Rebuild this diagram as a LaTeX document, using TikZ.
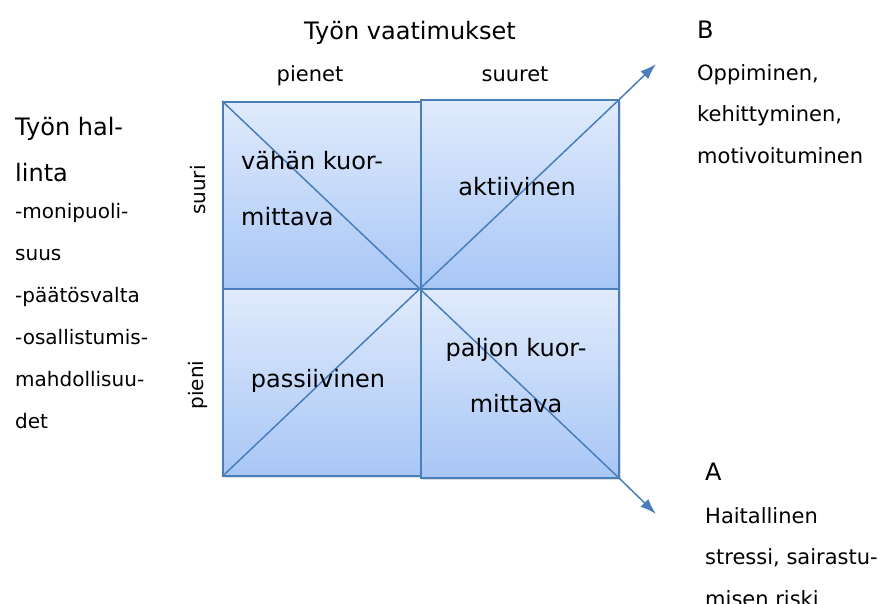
\documentclass[tikz,border=0pt]{standalone}
\usepackage{fontspec}
\setmainfont{DejaVu Sans}
\usetikzlibrary{arrows.meta,shadows}
\definecolor{boxblue}{HTML}{4A7EBB}
\definecolor{boxtop}{HTML}{E0EBFC}
\definecolor{boxbottom}{HTML}{A8C6F6}
\tikzset{
	quad/.style={draw=boxblue,line width=1.7pt,top color=boxtop,bottom color=boxbottom,
		anchor=north west,inner sep=0pt,minimum width=198pt,
		drop shadow={opacity=0.25,shadow xshift=2pt,shadow yshift=-2pt}},
	diag/.style={draw=boxblue,line width=1.5pt},
	big/.style={font=\fontsize{24}{46}\selectfont,inner sep=0pt},
	small/.style={font=\fontsize{20}{42}\selectfont,inner sep=0pt},
	inbox/.style={font=\fontsize{24}{56}\selectfont,inner sep=0pt}
}
\begin{document}
\begin{tikzpicture}[x=1pt,y=-1pt]
		\useasboundingbox (0,0) rectangle (880,603);
		%Boxes
		\node[quad,minimum height=187pt] (vk) at (222,101) {};
		\node[quad,minimum height=189pt] (ak) at (420,99) {};
		\node[quad,minimum height=187pt] (pa) at (222,288) {};
		\node[quad,minimum height=189pt] (pk) at (420,288) {};
		%Diagonals
		\coordinate (tipA) at (656,514);
		\coordinate (tipB) at (656,64);
		\draw[diag,-{Latex[length=16pt,width=11pt]}] (vk.north west)--(pk.south east)--(tipA);
		\draw[diag,-{Latex[length=16pt,width=11pt]}] (pa.south west)--(ak.north east)--(tipB);
		%Box texts (base = last line)
		\node[inbox,anchor=base west,align=left] (vkt) at (241,225) {vähän kuor-\\mittava};
		\node[inbox,anchor=base] (akt) at (517,195) {aktiivinen};
		\node[inbox,anchor=base] (pat) at (318,387) {passiivinen};
		\node[inbox,anchor=base,align=center] (pkt) at (516,412) {paljon kuor-\\mittava};
		%Axis labels
		\node[big,anchor=base] (vaat) at (410,39) {Työn vaatimukset};
		\node[small,font=\fontsize{21}{42}\selectfont,anchor=base] (pienet) at (310,81) {pienet};
		\node[small,font=\fontsize{21}{42}\selectfont,anchor=base] (suuret) at (515,81) {suuret};
		\node[small,rotate=90] (suuri) at (198,190) {suuri};
		\node[small,rotate=90] (pieni) at (198,385) {pieni};
		%Left side
		\node[big,anchor=base west,align=left] (hal) at (15,181) {Työn hal-\\linta};
		\node[small,anchor=base west,align=left] (hallist) at (15,428)
			{-monipuoli-\\suus\\-päätösvalta\\-osallistumis-\\mahdollisuu-\\det};
		%Right side
		\node[big,anchor=base west] (B) at (697,38) {B};
		\node[small,font=\fontsize{21}{41.5}\selectfont,anchor=base west,align=left] (Blist) at (697,163)
			{Oppiminen,\\kehittyminen,\\motivoituminen};
		\node[big,anchor=base west] (A) at (705,480) {A};
		\node[small,font=\fontsize{21}{41.5}\selectfont,anchor=base west,align=left] (Alist) at (705,606)
			{Haitallinen\\stressi, sairastu-\\misen riski};
\end{tikzpicture}
\end{document}
